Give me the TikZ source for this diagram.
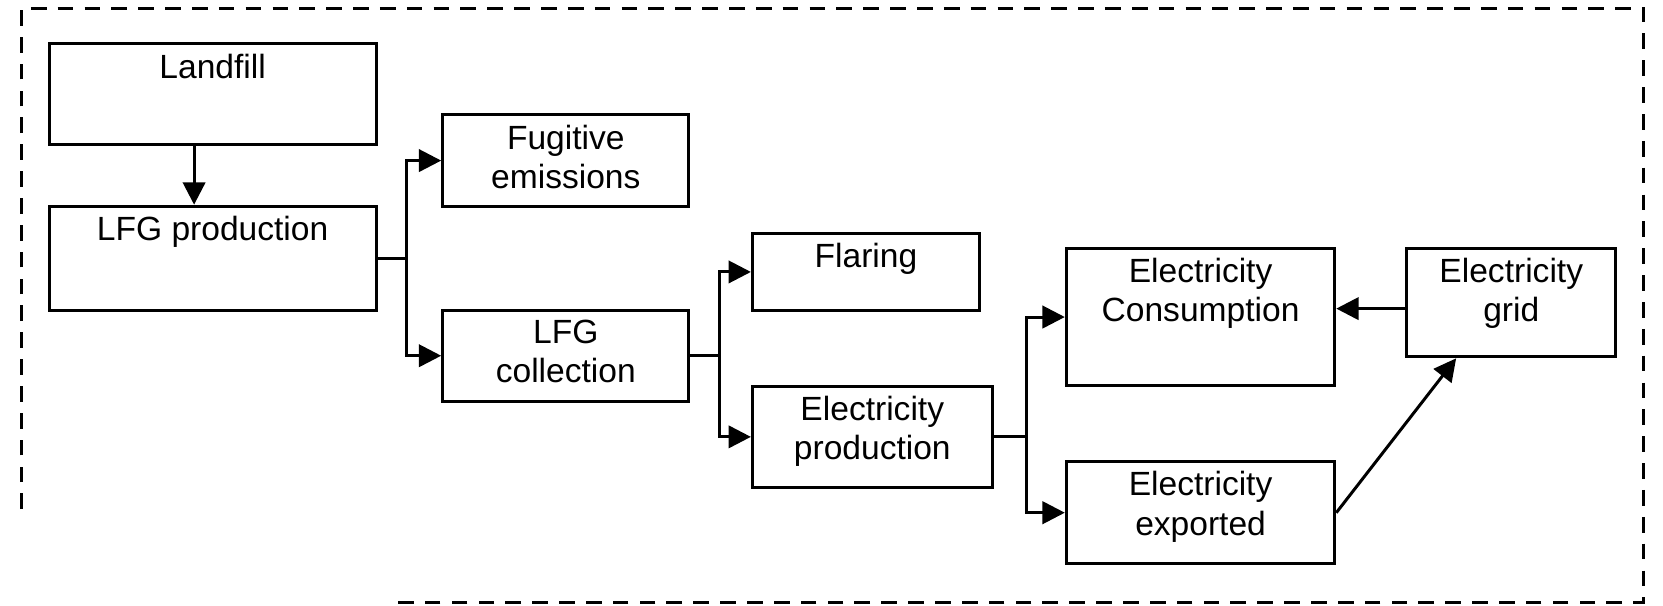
\documentclass[tikz,border=0pt]{standalone}
\usepackage{fontspec}
\setmainfont{Liberation Sans}
\usetikzlibrary{arrows.meta,calc}
\begin{document}
\begin{tikzpicture}[x=0.01cm,y=-0.01cm,
  box/.style={draw, line width=0.8pt, anchor=north west, inner sep=0pt},
  lbl/.style={anchor=north, align=center, inner sep=0pt, font=\fontsize{9}{10.5}\selectfont, yshift=-0.1cm},
  conn/.style={line width=0.8pt},
  arr/.style={line width=0.8pt, -{Triangle[length=6pt,width=6pt]}},
  frame/.style={line width=0.8pt, dash pattern=on 4.2pt off 3pt}
]
\useasboundingbox (0,0) rectangle (1568,571);
\draw[frame] (20,480) -- (20,8) -- (1550,8) -- (1550,568) -- (365,568);

\node[box, minimum width=3.08cm, minimum height=0.95cm] (landfill) at (45,40) {};
\node[lbl] (landfillt) at (landfill.north) {Landfill};
\node[box, minimum width=3.08cm, minimum height=0.98cm] (lfgprod) at (45,193) {};
\node[lbl] (lfgprodt) at (lfgprod.north) {LFG production};
\node[box, minimum width=2.32cm, minimum height=0.86cm] (fugitive) at (416,107) {};
\node[lbl] (fugitivet) at (fugitive.north) {Fugitive\\emissions};
\node[box, minimum width=2.32cm, minimum height=0.86cm] (lfgcoll) at (416,291) {};
\node[lbl] (lfgcollt) at (lfgcoll.north) {LFG\\collection};
\node[box, minimum width=2.14cm, minimum height=0.72cm] (flaring) at (708,219) {};
\node[lbl] (flaringt) at (flaring.north) {Flaring};
\node[box, minimum width=2.26cm, minimum height=0.95cm] (elecprod) at (708,363) {};
\node[lbl] (elecprodt) at (elecprod.north) {Electricity\\production};
\node[box, minimum width=2.53cm, minimum height=1.29cm] (cons) at (1004,233) {};
\node[lbl] (const) at (cons.north) {Electricity\\Consumption};
\node[box, minimum width=2.53cm, minimum height=0.96cm] (export) at (1004,434) {};
\node[lbl] (exportt) at (export.north) {Electricity\\exported};
\node[box, minimum width=1.97cm, minimum height=1.02cm] (grid) at (1325,233) {};
\node[lbl] (gridt) at (grid.north) {Electricity\\grid};

\draw[arr] (landfill.south -| 183,0) -- (lfgprod.north -| 183,0);

\coordinate (j1) at (383,0 |- lfgprod.east);
\draw[conn] (lfgprod.east) -- (j1);
\draw[arr] (j1) |- (fugitive.west);
\draw[arr] (j1) |- (lfgcoll.west);

\coordinate (j2) at (678,0 |- lfgcoll.east);
\draw[conn] (lfgcoll.east) -- (j2);
\draw[arr] (j2) |- (flaring.west);
\draw[arr] (j2) |- (elecprod.west);

\coordinate (j3) at (968,0 |- elecprod.east);
\draw[conn] (elecprod.east) -- (j3);
\draw[arr] (j3) |- (cons.west);
\draw[arr] (j3) |- (export.west);

\draw[arr] (grid.west |- 0,291) -- (cons.east |- 0,291);
\draw[arr] (export.east) -- ($(grid.south west)!0.24!(grid.south east)$);
\end{tikzpicture}
\end{document}
